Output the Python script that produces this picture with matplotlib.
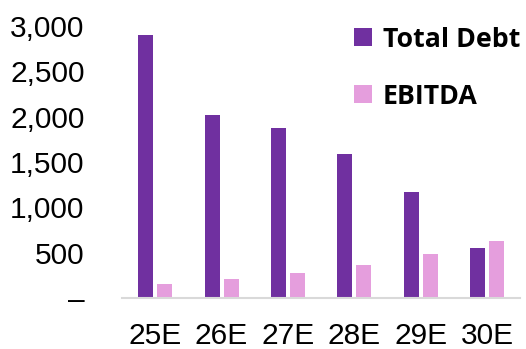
import matplotlib.pyplot as plt
import numpy as np

years = ["25E", "26E", "27E", "28E", "29E", "30E"]
total_debt = [2900, 2020, 1870, 1590, 1170, 555]
ebitda = [152, 207, 273, 362, 481, 628]

purple = "#7030A0"
pink = "#E59EDD"

fig = plt.figure(figsize=(5.26, 3.49), dpi=100)
ax = fig.add_axes([0.232, 0.146, 0.757, 0.78])

x = np.arange(len(years))
w = 0.226
off = 0.143
ax.bar(x - off, total_debt, w, color=purple, label="Total Debt")
ax.bar(x + off, ebitda, w, color=pink, label="EBITDA")

ax.set_xlim(-0.5, 5.5)
ax.set_ylim(0, 3000)
ax.set_yticks(range(0, 3001, 500))
ax.set_yticklabels(["–", "500", "1,000", "1,500", "2,000", "2,500", "3,000"])
ax.set_xticks(x)
ax.set_xticklabels(years)

for s in ["top", "right", "left"]:
    ax.spines[s].set_visible(False)
ax.spines["bottom"].set_color("#D9D9D9")
ax.spines["bottom"].set_linewidth(1.5)
ax.tick_params(axis="y", length=0, pad=27, labelsize=21.5, labelfontfamily="Liberation Sans")
ax.tick_params(axis="x", length=0, pad=17, labelsize=21.5, labelfontfamily="Liberation Sans")

leg = ax.legend(loc="upper right", bbox_to_anchor=(1.06, 1.085), frameon=False,
                prop={"family": "Open Sans", "weight": "bold", "size": 19.3},
                handlelength=0.65, handleheight=0.65, handletextpad=0.4,
                labelspacing=1.15)

fig.savefig("out.png", dpi=100)
